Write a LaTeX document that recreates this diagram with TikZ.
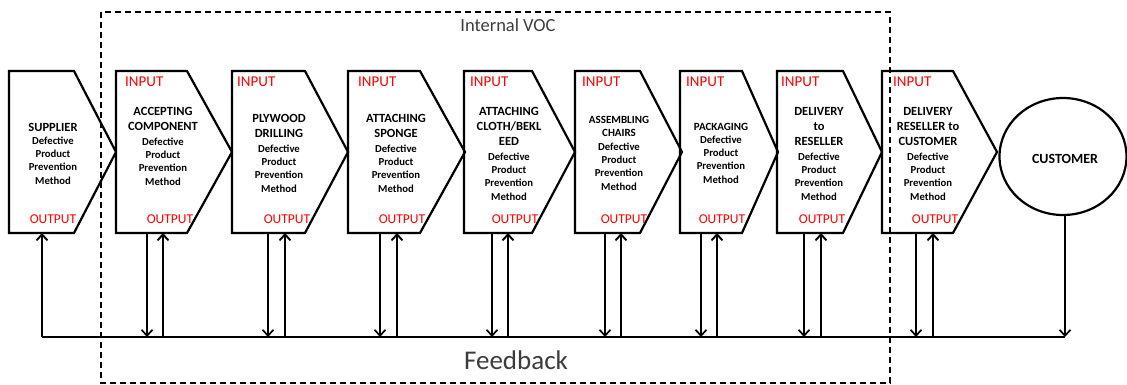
\documentclass[tikz,border=0pt]{standalone}
\usepackage{fontspec}
\setmainfont{Carlito}
\usetikzlibrary{arrows.meta,shapes.geometric}
\definecolor{lblgray}{RGB}{60,60,60}
\begin{document}
\begin{tikzpicture}[x=1pt,y=-1pt,
  procline/.style={line width=2.2pt, line join=miter},
  ttl/.style={font=\bfseries\fontsize{12.5}{15}\selectfont, align=center, inner sep=0pt},
  ttlsm/.style={font=\bfseries\fontsize{11}{13}\selectfont, align=center, inner sep=0pt},
  subt/.style={font=\bfseries\fontsize{10.7}{13.4}\selectfont, align=center, inner sep=0pt},
  inlab/.style={text=red, font=\fontsize{15}{15}\selectfont, anchor=west, inner sep=0pt},
  outlab/.style={text=red, font=\fontsize{13.5}{13.5}\selectfont, inner sep=0pt},
  dnarrow/.style={line width=1.7pt, -{Straight Barb[length=6pt,width=11pt,line width=1.7pt]}},
  uparrow/.style={line width=2.1pt, -{Straight Barb[length=6pt,width=11pt,line width=1.9pt]}},
  vocbox/.style={line width=1.5pt, dash pattern=on 6pt off 4pt},
  biglab/.style={text=lblgray, inner sep=0pt}
]
\useasboundingbox (0,0) rectangle (1127,385);

% process shapes
\foreach \L/\R/\P in {9/74/116, 116/187/232, 232/305/348, 348/420/465, 464/532/575, 575/640/682, 680/742/778, 777/843/882, 882/953/997}
  \draw[procline] (\L,71) -- (\R,71) -- (\P,152) -- (\R,233) -- (\L,233) -- cycle;

% customer
\node[draw, ellipse, line width=2.2pt, minimum width=127pt, minimum height=117pt, inner sep=0pt] (cust) at (1063,156.5) {};
\node[font=\bfseries\fontsize{14}{14}\selectfont, inner sep=0pt] (cust-t) at (1065,159) {CUSTOMER};

% dashed box
\draw[vocbox] (101,12) rectangle (890,383);
\node[biglab, font=\fontsize{18.5}{18.5}\selectfont] (voclab) at (508,25) {Internal VOC};

% texts
\node[ttl] (sup-t) at (53,127) {SUPPLIER};
\node[subt] (sup-s) at (53,160.5) {Defective\\Product\\Prevention\\Method};
\node[outlab] (sup-o) at (53,219) {OUTPUT};

\node[inlab] (acc-i) at (125,82) {INPUT};
\node[ttl] (acc-t) at (163,119) {ACCEPTING\\COMPONENT};
\node[subt] (acc-s) at (163,161.5) {Defective\\Product\\Prevention\\Method};
\node[outlab] (acc-o) at (170,219) {OUTPUT};

\node[inlab] (ply-i) at (237,82) {INPUT};
\node[ttl] (ply-t) at (279,125.5) {PLYWOOD\\DRILLING};
\node[subt] (ply-s) at (279,168.5) {Defective\\Product\\Prevention\\Method};
\node[outlab] (ply-o) at (287,219) {OUTPUT};

\node[inlab] (spo-i) at (358,82) {INPUT};
\node[ttl] (spo-t) at (396,125.5) {ATTACHING\\SPONGE};
\node[subt] (spo-s) at (396,168.5) {Defective\\Product\\Prevention\\Method};
\node[outlab] (spo-o) at (402,219) {OUTPUT};

\node[inlab] (clo-i) at (470,82) {INPUT};
\node[ttl] (clo-t) at (509,126.5) {ATTACHING\\CLOTH/BEKL\\EED};
\node[subt] (clo-s) at (509,176.5) {Defective\\Product\\Prevention\\Method};
\node[outlab] (clo-o) at (515,219) {OUTPUT};

\node[inlab] (asm-i) at (582,82) {INPUT};
\node[ttlsm] (asm-t) at (619,126.5) {ASSEMBLING\\CHAIRS};
\node[subt] (asm-s) at (619,166.5) {Defective\\Product\\Prevention\\Method};
\node[outlab] (asm-o) at (624,219) {OUTPUT};

\node[inlab] (pck-i) at (686,82) {INPUT};
\node[ttlsm] (pck-t) at (721,127) {PACKAGING};
\node[subt] (pck-s) at (721,159.5) {Defective\\Product\\Prevention\\Method};
\node[outlab] (pck-o) at (722,219) {OUTPUT};

\node[inlab] (del-i) at (781,82) {INPUT};
\node[ttl] (del-t) at (819,126.5) {DELIVERY\\to\\RESELLER};
\node[subt] (del-s) at (819,176.5) {Defective\\Product\\Prevention\\Method};
\node[outlab] (del-o) at (822,219) {OUTPUT};

\node[inlab] (dre-i) at (893,82) {INPUT};
\node[ttl] (dre-t) at (928,126.5) {DELIVERY\\RESELLER to\\CUSTOMER};
\node[subt] (dre-s) at (928,176.5) {Defective\\Product\\Prevention\\Method};
\node[outlab] (dre-o) at (935,219) {OUTPUT};

% feedback line
\coordinate (fbL) at (42,337);
\coordinate (cust-b) at (1065,215);
\coordinate (fbR) at (cust-b |- fbL);
\draw[line width=2.2pt] (fbL) -- (fbR);
\node[biglab, font=\fontsize{27}{27}\selectfont] (fblab) at (516,360) {Feedback};

% supplier feedback arrow
\coordinate (sup-in) at (42,233);
\draw[uparrow] (fbL) -- (sup-in);

% process arrows
\foreach \n/\d/\u in {acc/147/163, ply/268/285, spo/380/397, clo/492/508, asm/605/621, pck/701/717, del/804/821, dre/916/933}{
  \coordinate (\n-down) at (\d,233);
  \coordinate (\n-up) at (\u,233);
  \draw[dnarrow] (\n-down) -- (\n-down |- fbL);
  \draw[uparrow] (\n-up |- fbL) -- (\n-up);
}

% customer arrow
\draw[dnarrow] (cust-b) -- (fbR);
\end{tikzpicture}
\end{document}
